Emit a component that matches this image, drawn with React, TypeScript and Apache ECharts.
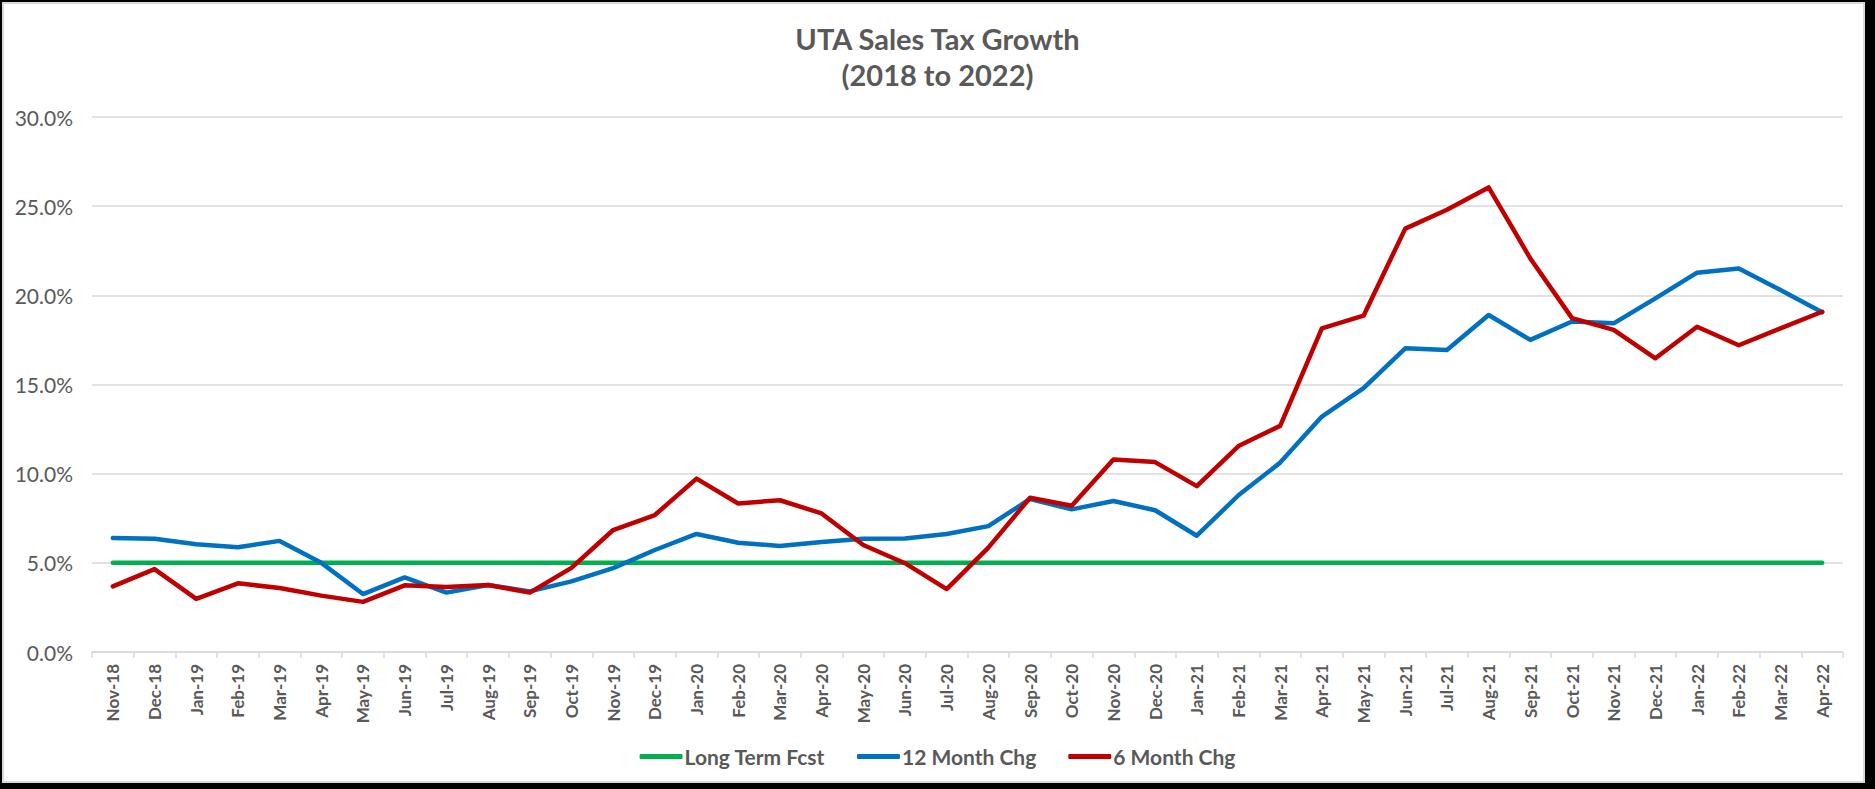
import React, { useEffect, useRef } from "react";
import * as echarts from "echarts";

const categories = [
  "Nov-18", "Dec-18",
  "Jan-19", "Feb-19", "Mar-19", "Apr-19", "May-19", "Jun-19", "Jul-19", "Aug-19", "Sep-19", "Oct-19", "Nov-19", "Dec-19",
  "Jan-20", "Feb-20", "Mar-20", "Apr-20", "May-20", "Jun-20", "Jul-20", "Aug-20", "Sep-20", "Oct-20", "Nov-20", "Dec-20",
  "Jan-21", "Feb-21", "Mar-21", "Apr-21", "May-21", "Jun-21", "Jul-21", "Aug-21", "Sep-21", "Oct-21", "Nov-21", "Dec-21",
  "Jan-22", "Feb-22", "Mar-22", "Apr-22",
];

const longTermFcst = [
  5, 5, 5, 5, 5, 5, 5, 5, 5, 5, 5, 5, 5, 5, 5, 5, 5, 5, 5, 5, 5,
  5, 5, 5, 5, 5, 5, 5, 5, 5, 5, 5, 5, 5, 5, 5, 5, 5, 5, 5, 5, 5,
];

const twelveMonthChg = [
  6.39, 6.35, 6.04, 5.87, 6.23, 5.0, 3.25, 4.18, 3.33, 3.76, 3.4, 3.96, 4.7, 5.72,
  6.62, 6.13, 5.95, 6.17, 6.35, 6.36, 6.62, 7.06, 8.58, 8.0, 8.47, 7.95,
  6.52, 8.79, 10.62, 13.2, 14.8, 17.03, 16.94, 18.9, 17.5, 18.53, 18.43, 19.83,
  21.27, 21.5, 20.3, 19.05,
];

const sixMonthChg = [
  3.68, 4.65, 2.98, 3.85, 3.59, 3.16, 2.81, 3.74, 3.64, 3.76, 3.33, 4.72, 6.84, 7.68,
  9.72, 8.33, 8.51, 7.77, 6.0, 4.98, 3.53, 5.85, 8.65, 8.2, 10.8, 10.65,
  9.3, 11.55, 12.68, 18.15, 18.86, 23.74, 24.8, 26.05, 22.07, 18.72, 18.06, 16.47,
  18.24, 17.2, 18.15, 19.08,
];

const yTicks = { min: 0, max: 30, interval: 5 };

const FONT = "Lato, 'Open Sans', sans-serif";
const GRAY_TEXT = "#595959";
const GRID_GRAY = "#d9d9d9";

export default function App() {
  const ref = useRef<HTMLDivElement>(null);

  useEffect(() => {
    document.body.style.margin = "0";
    if (!ref.current) return;
    const chart = echarts.init(ref.current, undefined, { renderer: "svg" });
    const lineSeries = (name: string, data: number[], color: string) => ({
      name,
      type: "line",
      data,
      symbol: "none",
      showSymbol: false,
      lineStyle: { color, width: 4.5, cap: "round", join: "round" },
      itemStyle: { color },
      emphasis: { disabled: true },
    });
    chart.setOption({
      animation: false,
      backgroundColor: "#000000",
      graphic: [
        {
          type: "rect",
          z: -100,
          zlevel: 0,
          silent: true,
          shape: { x: 3, y: 3, width: 1861, height: 779 },
          style: { fill: "#ffffff", stroke: GRID_GRAY, lineWidth: 2 },
        },
      ],
      title: {
        text: "UTA Sales Tax Growth\n(2018 to 2022)",
        left: "center",
        top: 15,
        textStyle: {
          fontFamily: FONT,
          fontSize: 29,
          fontWeight: "bold",
          color: GRAY_TEXT,
          lineHeight: 36,
        },
      },
      legend: {
        data: [
          { name: "Long Term Fcst", icon: "roundRect" },
          { name: "12 Month Chg", icon: "roundRect" },
          { name: "6 Month Chg", icon: "roundRect" },
        ],
        left: "center",
        top: 741,
        itemWidth: 43,
        itemHeight: 5,
        itemGap: 32,
        textStyle: { fontFamily: FONT, fontSize: 21, fontWeight: "bold", color: GRAY_TEXT, padding: [0, 0, 0, -3] },
      },
      grid: { left: 92, right: 32, top: 117, bottom: 137, containLabel: false },
      xAxis: {
        type: "category",
        data: categories,
        boundaryGap: true,
        axisLine: { show: true, lineStyle: { color: GRID_GRAY, width: 1.5 } },
        axisTick: { show: true, length: 6, lineStyle: { color: GRID_GRAY, width: 1.5 } },
        axisLabel: {
          interval: 0,
          rotate: 90,
          margin: 12,
          fontFamily: FONT,
          fontSize: 17,
          fontWeight: "bold",
          color: GRAY_TEXT,
        },
        splitLine: { show: false },
      },
      yAxis: {
        type: "value",
        min: yTicks.min,
        max: yTicks.max,
        interval: yTicks.interval,
        axisLine: { show: false },
        axisTick: { show: false },
        axisLabel: {
          margin: 19,
          fontFamily: FONT,
          fontSize: 21,
          color: GRAY_TEXT,
          formatter: (v: number) => v.toFixed(1) + "%",
        },
        splitLine: { show: true, lineStyle: { color: GRID_GRAY, width: 1.5 } },
      },
      series: [
        lineSeries("Long Term Fcst", longTermFcst, "#00B050"),
        lineSeries("12 Month Chg", twelveMonthChg, "#0070C0"),
        lineSeries("6 Month Chg", sixMonthChg, "#C00000"),
      ],
    });
    return () => chart.dispose();
  }, []);

  return <div ref={ref} style={{ width: 1875, height: 789 }} />;
}
